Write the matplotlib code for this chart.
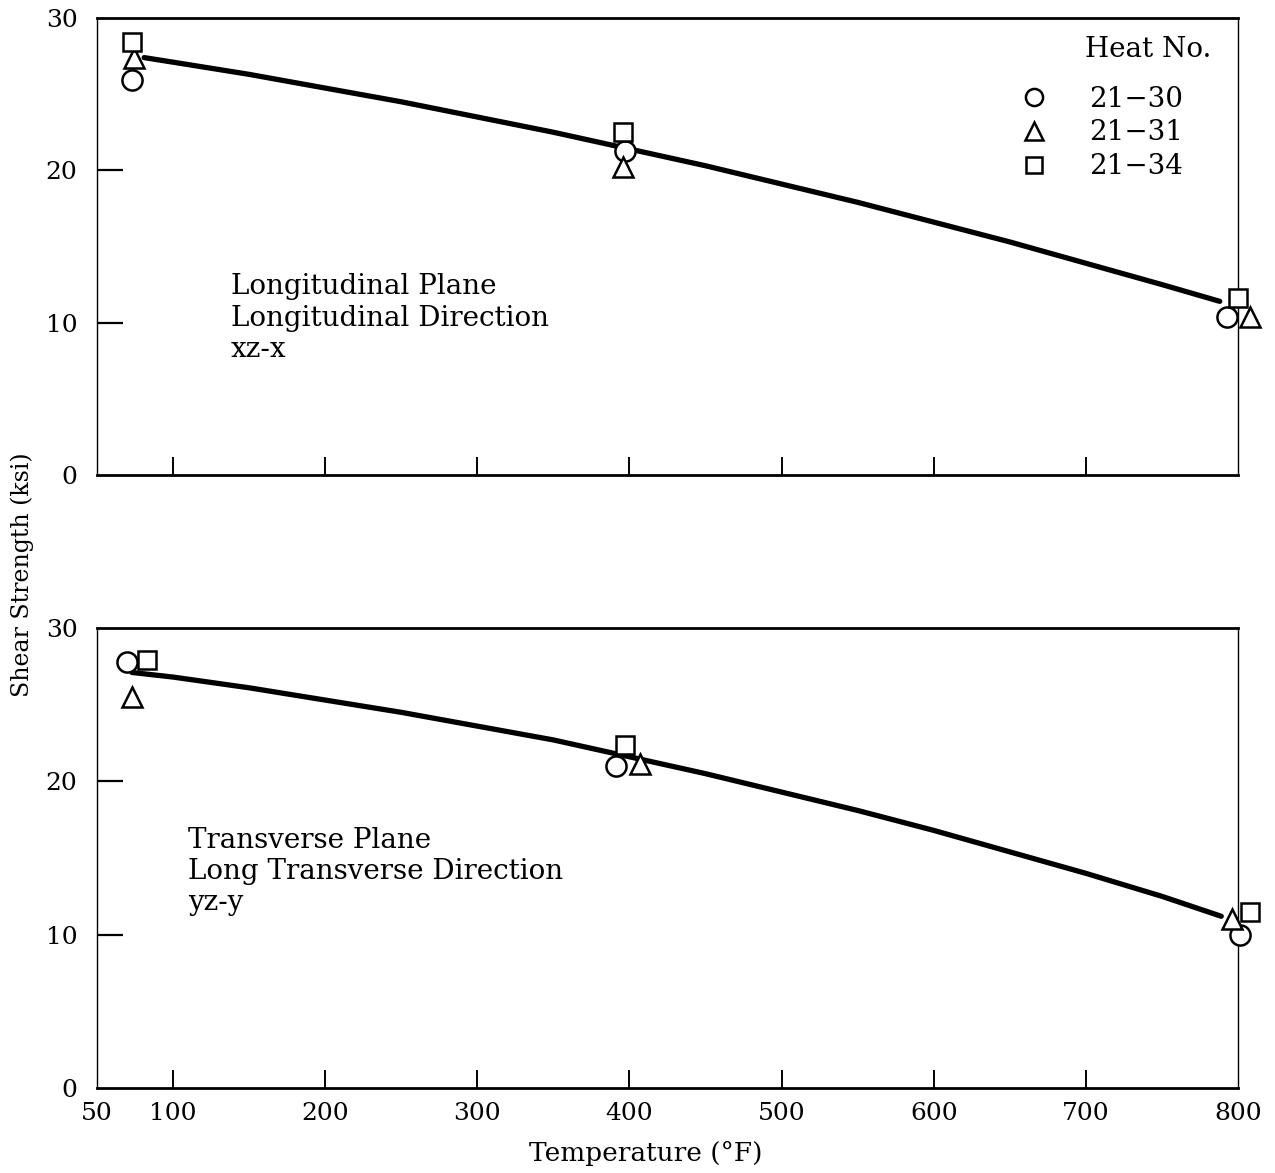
import matplotlib
matplotlib.use("Agg")
import matplotlib.pyplot as plt

plt.rcParams['font.family'] = ['DejaVu Serif']

# ---- data ----
heats = ["21-30", "21-31", "21-34"]
markers = ["o", "^", "s"]

# top panel: Longitudinal plane, xz-x
top_x = {
    "21-30": [73, 397, 793],
    "21-31": [74, 396, 808],
    "21-34": [73, 396, 800],
}
top_y = {
    "21-30": [25.9, 21.3, 10.4],
    "21-31": [27.4, 20.2, 10.4],
    "21-34": [28.4, 22.5, 11.6],
}
top_curve_x = [81, 100, 150, 200, 250, 300, 350, 400, 450, 500, 550, 600, 650, 700, 750, 788]
top_curve_y = [27.4, 27.1, 26.3, 25.4, 24.5, 23.5, 22.5, 21.4, 20.3, 19.1, 17.9, 16.6, 15.3, 13.9, 12.5, 11.4]

# bottom panel: Transverse plane, yz-y
bot_x = {
    "21-30": [70, 391, 801],
    "21-31": [73, 407, 796],
    "21-34": [83, 397, 808],
}
bot_y = {
    "21-30": [27.8, 21.0, 10.0],
    "21-31": [25.5, 21.1, 11.0],
    "21-34": [27.9, 22.4, 11.5],
}
bot_curve_x = [73, 100, 150, 200, 250, 300, 350, 400, 450, 500, 550, 600, 650, 700, 750, 789]
bot_curve_y = [27.1, 26.8, 26.1, 25.3, 24.5, 23.6, 22.7, 21.6, 20.5, 19.3, 18.1, 16.8, 15.4, 14.0, 12.5, 11.2]

x_ticks = [50, 100, 200, 300, 400, 500, 600, 700, 800]
y_ticks = [0, 10, 20, 30]

W, H = 1275, 1173
fig = plt.figure(figsize=(W / 100, H / 100), dpi=100)

def frac(px_left, px_top, px_right, px_bottom):
    return [px_left / W, 1 - px_bottom / H, (px_right - px_left) / W, (px_bottom - px_top) / H]

ax1 = fig.add_axes(frac(97, 18, 1238, 475))
ax2 = fig.add_axes(frac(97, 628, 1238, 1088))

TFS = 18   # tick labels
FS = 20    # annotations

def style(ax, show_xlabels):
    ax.set_xlim(50, 800)
    ax.set_ylim(0, 30)
    ax.set_yticks(y_ticks)
    ax.set_yticklabels([str(v) for v in y_ticks], fontsize=TFS)
    ax.tick_params(axis='y', direction='in', length=19, width=1.6, pad=14)
    ax.set_xticks(x_ticks)
    ax.tick_params(axis='x', direction='in', length=13, width=1.4, pad=10)
    if show_xlabels:
        ax.set_xticklabels([str(t) for t in x_ticks], fontsize=TFS)
    else:
        ax.set_xticklabels([])
    ticks = ax.xaxis.get_major_ticks()
    for t in (ticks[0], ticks[-1]):
        t.tick1line.set_visible(False)
    yt = ax.yaxis.get_major_ticks()
    for t in (yt[0], yt[-1]):
        t.tick1line.set_visible(False)
    for s in ['top', 'bottom']:
        ax.spines[s].set_linewidth(2.0)
    for s in ['left', 'right']:
        ax.spines[s].set_linewidth(1.0)
        ax.spines[s].set_linestyle((0, (4, 1)))
    for sp in ax.spines.values():
        sp.set_color('black')

style(ax1, False)
style(ax2, True)

mkw = dict(linestyle='none', markerfacecolor='white',
           markeredgecolor='black', markeredgewidth=1.8, clip_on=False, zorder=3)

ax1.plot(top_curve_x, top_curve_y, color='black', linewidth=3.8, zorder=2,
         solid_joinstyle='round', solid_capstyle='round')
ax2.plot(bot_curve_x, bot_curve_y, color='black', linewidth=3.8, zorder=2,
         solid_joinstyle='round', solid_capstyle='round')
for h, m in zip(heats, markers):
    ms = 13 if m == 's' else 14.5
    ax1.plot(top_x[h], top_y[h], marker=m, markersize=ms,
             label=h.replace('-', '\u2212'), **mkw)
    ax2.plot(bot_x[h], bot_y[h], marker=m, markersize=ms, **mkw)

# legend
ax1.text(0.977, 0.932, "Heat No.", transform=ax1.transAxes, ha='right', va='center', fontsize=FS)
leg = ax1.legend(loc='upper right', bbox_to_anchor=(0.974, 0.907), frameon=False,
                 fontsize=FS, handlelength=1.0, handletextpad=1.5, labelspacing=0.25,
                 markerscale=0.85)

ax1.text(138, 10.3, "Longitudinal Plane\nLongitudinal Direction\nxz-x",
         fontsize=FS, ha='left', va='center', linespacing=1.2)
ax2.text(110, 14.1, "Transverse Plane\nLong Transverse Direction\nyz-y",
         fontsize=FS, ha='left', va='center', linespacing=1.2)

fig.text(22 / W, 1 - 575 / H, "Shear Strength (ksi)", rotation=90,
         ha='center', va='center', fontsize=17)
fig.text(646 / W, 1 - 1153 / H, "Temperature (\u00b0F)", ha='center', va='center', fontsize=19)

fig.savefig("out.png", dpi=100)
